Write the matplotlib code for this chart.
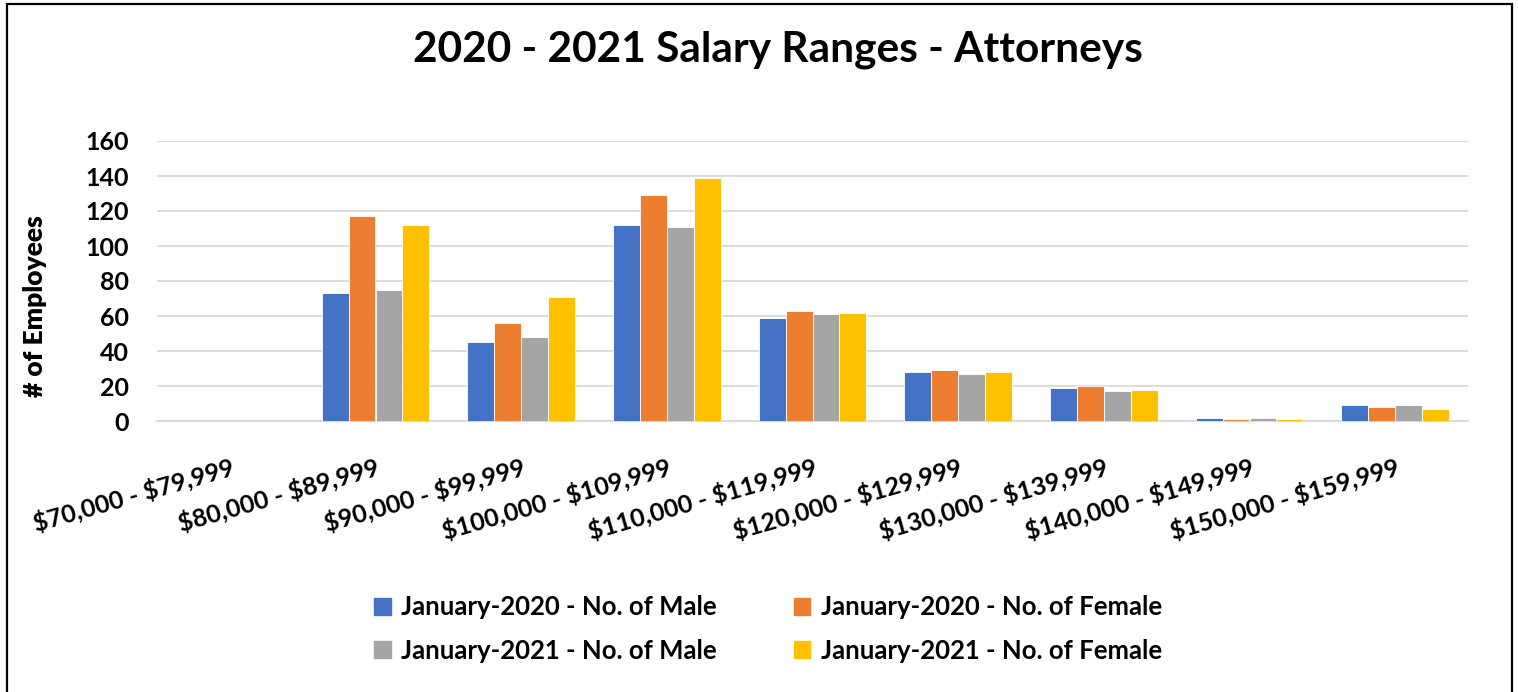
import matplotlib
matplotlib.use("Agg")
import matplotlib.pyplot as plt
import numpy as np
from matplotlib.patches import Rectangle, Patch

categories = ["$70,000 - $79,999", "$80,000 - $89,999", "$90,000 - $99,999",
              "$100,000 - $109,999", "$110,000 - $119,999", "$120,000 - $129,999",
              "$130,000 - $139,999", "$140,000 - $149,999", "$150,000 - $159,999"]
male_2020 = [0, 73, 45, 112, 59, 28, 19, 2, 9]
female_2020 = [0, 117, 56, 129, 63, 29, 20, 1, 8]
male_2021 = [0, 75, 48, 111, 61, 27, 17, 2, 9]
female_2021 = [0, 112, 71, 139, 62, 28, 18, 1, 7]
series_names = ["January-2020 - No. of Male", "January-2020 - No. of Female",
                "January-2021 - No. of Male", "January-2021 - No. of Female"]
colors = ["#4472C4", "#ED7D31", "#A5A5A5", "#FFC000"]
y_ticks = [0, 20, 40, 60, 80, 100, 120, 140, 160]

plt.rcParams['font.family'] = ['Lato', 'DejaVu Sans']
plt.rcParams['font.weight'] = 'bold'
plt.rcParams['text.parse_math'] = False

fig = plt.figure(figsize=(15.18, 6.92), dpi=100)
ax = fig.add_axes([157/1518, 1-421/692, (1468-157)/1518, 280/692])

series = [male_2020, female_2020, male_2021, female_2021]
x = np.arange(len(categories))
bw = 0.185
for i, (vals, c, name) in enumerate(zip(series, colors, series_names)):
    ax.bar(x + (i - 1.5) * bw, vals, width=bw, color=c, edgecolor='white',
           linewidth=0.6, label=name, zorder=3)

ax.set_xlim(-0.5, len(categories) - 0.5)
ax.set_ylim(0, 160)
ax.set_yticks(y_ticks)
ax.set_yticklabels([str(t) for t in y_ticks], fontsize=18, fontweight='bold')
ax.grid(axis='y', color='#D9D9D9', linewidth=1.3, zorder=0)
for s in ['top', 'right', 'left']:
    ax.spines[s].set_visible(False)
ax.spines['bottom'].set_color('#D9D9D9')
ax.spines['bottom'].set_linewidth(1.3)
ax.tick_params(axis='y', length=0, pad=20)
ax.tick_params(axis='x', length=0, pad=24)
ax.set_xticks(x)
ax.set_xticklabels(categories, rotation=16, ha='right', va='top',
                   rotation_mode='anchor', fontsize=18, fontweight='bold')
ax.set_ylabel("# of Employees", fontsize=19, fontweight='heavy')
ax.yaxis.set_label_coords(-0.084, 0.41)

fig.text(778/1518, 1-50/692, "2020 - 2021 Salary Ranges - Attorneys",
         ha='center', va='center', fontsize=30.5, fontweight='bold')

order = [0, 2, 1, 3]
fig.legend([Patch(color=colors[i]) for i in order],
           [series_names[i] for i in order],
           ncol=2, loc='center', bbox_to_anchor=(768/1518, 1-629/692),
           frameon=False, fontsize=18.5, handlelength=0.65, handleheight=0.65,
           handletextpad=0.4, columnspacing=3.0, labelspacing=0.75)

fig.patches.append(Rectangle((7/1518, -0.02), (1512-7)/1518, 1.02 - 4/692,
                             transform=fig.transFigure, fill=False,
                             edgecolor='black', linewidth=1.6))

fig.savefig("out.png", dpi=100)
